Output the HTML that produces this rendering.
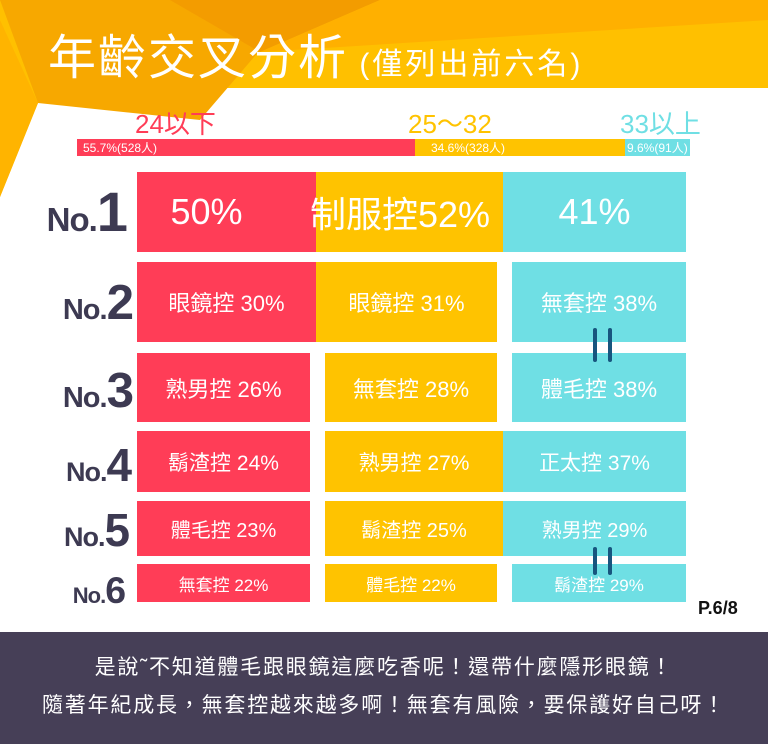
<!DOCTYPE html>
<html><head><meta charset="utf-8"><style>
*{margin:0;padding:0;box-sizing:border-box}
body{width:768px;height:744px;position:relative;overflow:hidden;background:#fff;font-family:"Liberation Sans","Noto Sans CJK TC",sans-serif}
.a{position:absolute}
.b{position:absolute;color:#fff;display:flex;align-items:center;justify-content:center;white-space:nowrap}
.r{background:#ff3d57}.y{background:#ffc300}.c{background:#6fdfe4}
.no{position:absolute;color:#3d3a52;font-weight:bold;text-align:right;width:132px;left:0;white-space:nowrap;line-height:1;letter-spacing:-1px}
.no span{font-size:1.7em;letter-spacing:-2px}
.eq{position:absolute;width:4px;background:#17557e;border-radius:2px}
</style></head><body>
<svg class="a" style="left:0;top:0" width="768" height="200">
<polygon points="0,0 768,0 768,88 180,88 38,103 0,197" fill="#ffc000"/>
<polygon points="0,0 380,0 260,50 200,120 38,103" fill="#f7a800"/>
<polygon points="170,0 380,0 260,52" fill="#f39c00"/>
<polygon points="380,0 768,0 768,20 260,52" fill="#ffb000"/>
<polygon points="0,20 38,103 0,197" fill="#ffb400"/>
</svg>
<div class="a" style="left:48px;top:18px;font-size:48px;color:#fff;letter-spacing:2px;white-space:nowrap">年齡交叉分析<span style="font-size:30px;letter-spacing:3px"> (僅列出前六名)</span></div>
<div class="a" style="left:135px;top:104px;font-size:26px;color:#ff3d57">24以下</div>
<div class="a" style="left:408px;top:104px;font-size:26px;color:#ffc300">25～32</div>
<div class="a" style="left:620px;top:104px;font-size:26px;color:#6fdfe4">33以上</div>
<div class="b r" style="left:77px;top:139px;width:338px;height:17px;font-size:12px;justify-content:flex-start;padding-left:6px">55.7%(528人)</div>
<div class="b y" style="left:415px;top:139px;width:210px;height:17px;font-size:12px;justify-content:flex-start;padding-left:16px">34.6%(328人)</div>
<div class="b c" style="left:625px;top:139px;width:65px;height:17px;font-size:12px;justify-content:flex-start;padding-left:2px">9.6%(91人)</div>

<div class="no" style="top:184px;font-size:33px;width:126px">No.<span>1</span></div>
<div class="b r" style="left:137px;top:172px;width:179px;height:80px;font-size:36px;padding-right:40px">50%</div>
<div class="b y" style="left:316px;top:172px;width:187px;height:80px"></div>
<div class="b" style="left:297px;top:172px;width:206px;height:80px;font-size:36px">制服控52%</div>
<div class="b c" style="left:503px;top:172px;width:183px;height:80px;font-size:36px">41%</div>

<div class="no" style="top:278px;font-size:29px">No.<span>2</span></div>
<div class="b r" style="left:137px;top:262px;width:179px;height:80px;font-size:22px">眼鏡控 30%</div>
<div class="b y" style="left:316px;top:262px;width:181px;height:80px;font-size:22px">眼鏡控 31%</div>
<div class="b c" style="left:512px;top:262px;width:174px;height:80px;font-size:22px">無套控 38%</div>

<div class="no" style="top:366px;font-size:29px">No.<span>3</span></div>
<div class="b r" style="left:137px;top:353px;width:173px;height:69px;font-size:22px">熟男控 26%</div>
<div class="b y" style="left:325px;top:353px;width:172px;height:69px;font-size:22px">無套控 28%</div>
<div class="b c" style="left:512px;top:353px;width:174px;height:69px;font-size:22px">體毛控 38%</div>

<div class="no" style="top:443px;font-size:27px;width:130px">No.<span>4</span></div>
<div class="b r" style="left:137px;top:431px;width:173px;height:61px;font-size:21px">鬍渣控 24%</div>
<div class="b y" style="left:325px;top:431px;width:178px;height:61px;font-size:21px">熟男控 27%</div>
<div class="b c" style="left:503px;top:431px;width:183px;height:61px;font-size:21px">正太控 37%</div>

<div class="no" style="top:508px;font-size:27px;width:128px">No.<span>5</span></div>
<div class="b r" style="left:137px;top:501px;width:173px;height:55px;font-size:20px">體毛控 23%</div>
<div class="b y" style="left:325px;top:501px;width:178px;height:55px;font-size:20px">鬍渣控 25%</div>
<div class="b c" style="left:503px;top:501px;width:183px;height:55px;font-size:20px">熟男控 29%</div>

<div class="no" style="top:572px;font-size:22px;width:124px">No.<span>6</span></div>
<div class="b r" style="left:137px;top:564px;width:173px;height:38px;font-size:17px">無套控 22%</div>
<div class="b y" style="left:325px;top:564px;width:172px;height:38px;font-size:17px">體毛控 22%</div>
<div class="b c" style="left:512px;top:564px;width:174px;height:38px;font-size:17px">鬍渣控 29%</div>

<div class="eq" style="left:593px;top:328px;height:34px"></div>
<div class="eq" style="left:608px;top:328px;height:34px"></div>
<div class="eq" style="left:593px;top:547px;height:28px"></div>
<div class="eq" style="left:608px;top:547px;height:28px"></div>

<div class="a" style="left:698px;top:598px;font-size:18px;font-weight:bold;color:#111">P.6/8</div>
<div class="a" style="left:0;top:632px;width:768px;height:112px;background:#463f57;color:#fff;font-size:21px;text-align:center;line-height:38px;padding-top:17px;white-space:nowrap;letter-spacing:1.8px">是說˜不知道體毛跟眼鏡這麼吃香呢！還帶什麼隱形眼鏡！<br>隨著年紀成長，無套控越來越多啊！無套有風險，要保護好自己呀！</div>
</body></html>
